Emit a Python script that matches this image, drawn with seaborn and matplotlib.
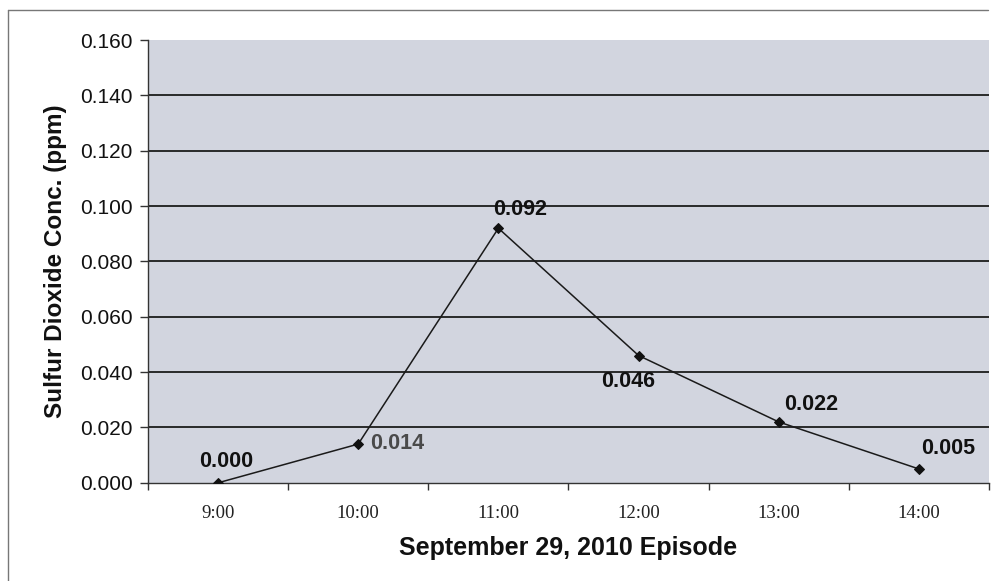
import matplotlib
matplotlib.use("Agg")
import matplotlib.pyplot as plt
from matplotlib.lines import Line2D
import seaborn as sns
import pandas as pd

times = ["9:00", "10:00", "11:00", "12:00", "13:00", "14:00"]
so2_ppm = [0.000, 0.014, 0.092, 0.046, 0.022, 0.005]
y_ticks = [0.000, 0.020, 0.040, 0.060, 0.080, 0.100, 0.120, 0.140, 0.160]

sns.set_theme(style="white")
plt.rcParams["font.family"] = ["Liberation Sans", "DejaVu Sans"]

df = pd.DataFrame({"pos": range(len(times)), "ppm": so2_ppm})

fig = plt.figure(figsize=(9.93, 5.81), dpi=100)
fig.patch.set_facecolor("white")
ax = fig.add_axes([0.149, 0.169, 0.847, 0.762])
ax.set_facecolor("#d2d5df")

sns.lineplot(data=df, x="pos", y="ppm", ax=ax, color="#1a1a1a", linewidth=1.1,
             marker="D", markersize=5.5, markeredgecolor="#111111",
             markerfacecolor="#111111", zorder=3)

ax.set_xlim(-0.5, len(times) - 0.5)
ax.set_ylim(0, 0.160)
ax.set_yticks(y_ticks)
ax.set_yticklabels([f"{v:.3f}" for v in y_ticks], fontsize=15, color="#111111")
ax.set_xticks(range(len(times)))
ax.set_xticklabels(times, fontsize=13.5, family="Liberation Serif", color="#222222")
ax.set_xticks([i - 0.5 for i in range(len(times) + 1)], minor=True)
ax.tick_params(axis="x", which="major", length=0, pad=16)
ax.tick_params(axis="x", which="minor", length=5, width=1, color="#333333", direction="out", bottom=True)
ax.tick_params(axis="y", length=6, width=1, color="#333333", direction="out", left=True, pad=5)

for v in y_ticks[1:-1]:
    ax.axhline(v, color="#1c1c1c", linewidth=1.3, zorder=1)

for side in ["top", "right"]:
    ax.spines[side].set_visible(False)
for side in ["left", "bottom"]:
    ax.spines[side].set_color("#333333")
    ax.spines[side].set_linewidth(1.0)

ax.set_xlabel("September 29, 2010 Episode", fontsize=18, fontweight="bold", labelpad=10, color="#111111")
ax.set_ylabel("Sulfur Dioxide Conc. (ppm)", fontsize=17.5, fontweight="bold", labelpad=9, color="#111111")

# value labels: offsets in pixels from the marker, plus alignment
offsets = [(8, 21, "center"), (12, 1, "left"), (-5, 19, "left"),
           (17, -26, "right"), (5, 17, "left"), (2, 20, "left")]
colors = ["#111111", "#4a4a4a", "#111111", "#111111", "#111111", "#111111"]
for i, v in enumerate(so2_ppm):
    dx, dy, ha = offsets[i]
    ax.annotate(f"{v:.3f}", (i, v), xytext=(dx, dy), textcoords="offset pixels",
                ha=ha, va="center", fontsize=15.5, fontweight="bold", color=colors[i], zorder=4)

# thin frame lines along the top and left of the chart
fig.add_artist(Line2D([0.008, 0.995], [0.983, 0.983], transform=fig.transFigure,
                      color="#777777", linewidth=1.0))
fig.add_artist(Line2D([0.008, 0.008], [0.0, 0.983], transform=fig.transFigure,
                      color="#777777", linewidth=1.0))

fig.savefig("out.png", dpi=100)
